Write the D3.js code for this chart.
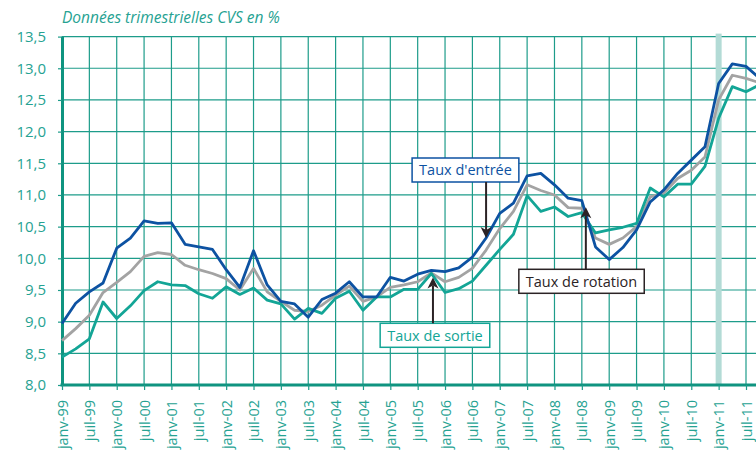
<!DOCTYPE html>
<html>
<head>
<meta charset="utf-8">
<script src="https://cdn.jsdelivr.net/npm/d3@7"></script>
<style>
  body { margin: 0; background: #fff; }
  svg { display: block; font-family: "Open Sans", sans-serif; }
</style>
</head>
<body>
<svg width="756" height="450"></svg>
<script>
// trimestres
const quarters = [
  "1999T1","1999T2","1999T3","1999T4","2000T1","2000T2","2000T3","2000T4",
  "2001T1","2001T2","2001T3","2001T4","2002T1","2002T2","2002T3","2002T4",
  "2003T1","2003T2","2003T3","2003T4","2004T1","2004T2","2004T3","2004T4",
  "2005T1","2005T2","2005T3","2005T4","2006T1","2006T2","2006T3","2006T4",
  "2007T1","2007T2","2007T3","2007T4","2008T1","2008T2","2008T3","2008T4",
  "2009T1","2009T2","2009T3","2009T4","2010T1","2010T2","2010T3","2010T4",
  "2011T1","2011T2","2011T3","2011T4"
]

const tickLabels = [
  "janv-99","juil-99","janv-00","juil-00","janv-01","juil-01","janv-02","juil-02",
  "janv-03","juil-03","janv-04","juil-04","janv-05","juil-05","janv-06","juil-06",
  "janv-07","juil-07","janv-08","juil-08","janv-09","juil-09","janv-10","juil-10",
  "janv-11","juil-11"
]

const yTicks = [8, 8.5, 9, 9.5, 10, 10.5, 11, 11.5, 12, 12.5, 13, 13.5]

const tauxEntree = [
  8.97, 9.29, 9.47, 9.61, 10.16, 10.32, 10.59, 10.55, 10.56, 10.22, 10.18, 10.14,
  9.82, 9.54, 10.12, 9.58, 9.32, 9.28, 9.07, 9.35, 9.45, 9.63, 9.39, 9.39,
  9.70, 9.64, 9.75, 9.81, 9.79, 9.85, 10.02, 10.32, 10.71, 10.87, 11.30, 11.34,
  11.16, 10.95, 10.91, 10.18, 9.98, 10.17, 10.45, 10.89, 11.08, 11.34, 11.55, 11.76,
  12.76, 13.07, 13.03, 12.84
]

const tauxRotation = [
  8.70, 8.89, 9.10, 9.46, 9.62, 9.79, 10.03, 10.09, 10.06, 9.89, 9.82, 9.76,
  9.68, 9.50, 9.84, 9.47, 9.32, 9.18, 9.16, 9.26, 9.42, 9.56, 9.32, 9.39,
  9.54, 9.58, 9.63, 9.77, 9.63, 9.70, 9.84, 10.13, 10.47, 10.74, 11.16, 11.07,
  11.00, 10.80, 10.79, 10.32, 10.22, 10.32, 10.50, 10.97, 11.03, 11.26, 11.39, 11.60,
  12.50, 12.89, 12.84, 12.77
]

const tauxSortie = [
  8.44, 8.57, 8.73, 9.31, 9.05, 9.25, 9.49, 9.63, 9.58, 9.57, 9.44, 9.37,
  9.55, 9.43, 9.53, 9.34, 9.28, 9.04, 9.21, 9.13, 9.37, 9.48, 9.18, 9.39,
  9.39, 9.51, 9.51, 9.76, 9.46, 9.52, 9.64, 9.89, 10.14, 10.38, 10.99, 10.74,
  10.81, 10.66, 10.72, 10.40, 10.45, 10.49, 10.55, 11.11, 10.97, 11.17, 11.17, 11.45,
  12.21, 12.71, 12.63, 12.74
]

// annotations : libellé, série visée, trimestre visé
const noteLabels = ["Taux d'entrée", "Taux de sortie", "Taux de rotation"]
const noteSeries = [tauxEntree, tauxSortie, tauxRotation]
const noteQuarters = ["2006T4", "2005T4", "2008T3"]

const bandQuarter = "2011T1"

const colors = {entree: "#0d52a2", rotation: "#a3a3a3", sortie: "#13a596",
                grid: "#1d9c8a", axis: "#0f9480", text: "#26a292", arrow: "#2b2325"}

let svg = d3.select("svg")

let area = {width: 756, height: 450, left: 62, top: 36.6, bottom: 385, step: 13.68}

let scX = d3.scaleLinear()
    .domain([0, quarters.length - 1])
    .range([area.left, area.left + area.step * (quarters.length - 1)])

let scY = d3.scaleLinear()
    .domain([8, 13.5])
    .range([area.bottom, area.top])

let halfYears = quarters.map((q, i) => i).filter(i => /T[13]$/.test(quarters[i]))

// titre
svg.append("text")
    .attr("x", area.left)
    .attr("y", 23)
    .style("font-size", "15.5px")
    .style("font-style", "italic")
    .style("fill", colors.text)
    .text("Données trimestrielles CVS en %")

// grille
svg.append("g")
    .selectAll("line")
    .data(yTicks)
    .enter()
    .append("line")
    .attr("x1", area.left)
    .attr("x2", area.width)
    .attr("y1", d => scY(d))
    .attr("y2", d => scY(d))
    .style("stroke", colors.grid)
    .style("stroke-width", 1.2)

svg.append("g")
    .selectAll("line")
    .data(halfYears)
    .enter()
    .append("line")
    .attr("x1", d => scX(d))
    .attr("x2", d => scX(d))
    .attr("y1", area.top)
    .attr("y2", area.bottom)
    .style("stroke", colors.grid)
    .style("stroke-width", 1.2)

// bande janv-11
let bandI = quarters.indexOf(bandQuarter)
svg.append("rect")
    .attr("x", scX(bandI) - 3)
    .attr("y", area.top - 3)
    .attr("width", 6)
    .attr("height", area.bottom - area.top + 3)
    .style("fill", "#b3dbd6")

// axes
let axisY = d3.axisLeft(scY)
    .tickValues(yTicks)
    .tickFormat(d => d.toFixed(1).replace(".", ","))
    .tickSize(4)
    .tickSizeOuter(0)
    .tickPadding(12)

let gY = svg.append("g")
    .attr("transform", `translate(${area.left}, 0)`)
    .call(axisY)
gY.select(".domain").style("stroke", colors.axis).style("stroke-width", 3)
gY.selectAll(".tick line").style("stroke", colors.grid).style("stroke-width", 1.2)
gY.selectAll("text")
    .style("font-size", "15px")
    .style("font-family", "'Open Sans', sans-serif")
    .style("fill", colors.text)

let axisX = d3.axisBottom(scX)
    .tickValues(halfYears)
    .tickFormat((d, k) => tickLabels[k])
    .tickSize(5)
    .tickSizeOuter(0)

let gX = svg.append("g")
    .attr("transform", `translate(0, ${area.bottom})`)
    .call(axisX)
gX.select(".domain")
    .attr("d", `M${area.left - 1.5},0H${area.width}`)
    .style("stroke", colors.axis).style("stroke-width", 3)
gX.selectAll(".tick line").style("stroke", colors.grid).style("stroke-width", 1.2)
gX.selectAll("text")
    .attr("transform", "rotate(-90)")
    .attr("x", -15)
    .attr("y", 0)
    .attr("dy", "0.35em")
    .style("text-anchor", "end")
    .style("font-size", "14.5px")
    .style("font-family", "'Open Sans', sans-serif")
    .style("fill", colors.text)

// courbes
const lineGen = d3.line()
    .x((d, i) => scX(i))
    .y(d => scY(d))

let series = [[tauxRotation, colors.rotation], [tauxSortie, colors.sortie], [tauxEntree, colors.entree]]
series.forEach(s => {
    svg.append("path")
        .datum(s[0])
        .attr("d", lineGen)
        .style("fill", "none")
        .style("stroke", s[1])
        .style("stroke-width", 2.8)
        .style("stroke-linejoin", "round")
})

// encadrés et flèches
let noteStyle = [
    {color: colors.entree, dxBox: -20.6, boxEdge: 182, dxArrow: 0, tipGap: 0, up: false},
    {color: colors.sortie, dxBox: 3.6, boxEdge: 323.3, dxArrow: 1.6, tipGap: 4, up: true},
    {color: colors.arrow, dxBox: -0.3, boxEdge: 269.3, dxArrow: 4, tipGap: -1, up: true}
]

noteLabels.forEach((label, k) => {
    let st = noteStyle[k]
    let i = quarters.indexOf(noteQuarters[k])
    let px = scX(i)
    let py = scY(noteSeries[k][i])
    let ax = px + st.dxArrow
    let tipY = st.up ? py + st.tipGap : py - st.tipGap
    let boxH = 24
    let boxTop = st.up ? st.boxEdge : st.boxEdge - boxH

    let g = svg.append("g")
    let rect = g.append("rect")
    let txt = g.append("text")
        .attr("x", px + st.dxBox)
        .attr("y", boxTop + boxH / 2)
        .attr("dy", "0.36em")
        .style("text-anchor", "middle")
        .style("font-size", "14.5px")
        .style("fill", st.color)
        .text(label)
    let w = txt.node().getComputedTextLength() + 14
    rect.attr("x", px + st.dxBox - w / 2)
        .attr("y", boxTop)
        .attr("width", w)
        .attr("height", boxH)
        .style("fill", "#fff")
        .style("stroke", st.color)
        .style("stroke-width", 1.5)

    let y0 = st.boxEdge
    let dir = st.up ? -1 : 1
    let headLen = 11
    svg.append("line")
        .attr("x1", ax).attr("x2", ax)
        .attr("y1", y0)
        .attr("y2", tipY - dir * (headLen - 3))
        .style("stroke", colors.arrow)
        .style("stroke-width", 2)
    svg.append("path")
        .attr("d", `M${ax},${tipY} L${ax - 5.5},${tipY - dir * headLen} L${ax},${tipY - dir * (headLen - 3)} L${ax + 5.5},${tipY - dir * headLen} Z`)
        .style("fill", colors.arrow)
})
</script>
</body>
</html>
